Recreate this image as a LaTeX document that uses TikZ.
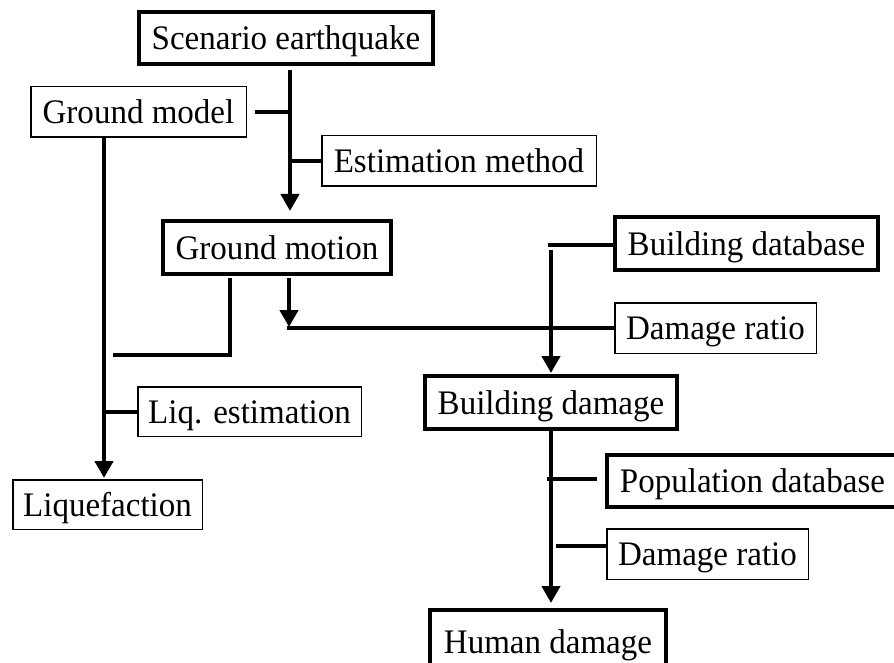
\documentclass[tikz,border=0pt]{standalone}
\usepackage{fontspec}
\setmainfont{Liberation Serif}[FakeStretch=0.96]
\usetikzlibrary{arrows.meta}
\begin{document}
\begin{tikzpicture}[x=1pt,y=-1pt,
  box/.style={draw, inner sep=0pt, align=center, text height=23pt, text depth=0pt, font=\fontsize{34.4}{40}\selectfont},
  thickbox/.style={box, line width=4pt},
  thinbox/.style={box, line width=1.5pt},
  conn/.style={line width=4.5pt},
  arr/.style={conn, -{Triangle[width=18pt,length=17pt]}}]
\useasboundingbox (0,0) rectangle (894,663);
\clip (0,0) rectangle (894,663);
\fill[white] (0,0) rectangle (894,663);
% nodes
\node[thickbox, minimum width=294pt, minimum height=52pt] (se) at (286,38) {Scenario earthquake};
\node[thinbox, minimum width=215.5pt, minimum height=50.5pt] (gmod) at (138.5,112) {Ground model};
\node[thinbox, minimum width=274.5pt, minimum height=50.5pt] (em) at (459,161) {Estimation method};
\node[thickbox, minimum width=228pt, minimum height=53pt] (gmot) at (277,247.5) {Ground motion};
\node[thickbox, minimum width=263pt, minimum height=53pt] (bdb) at (746.5,243.5) {Building database};
\node[thinbox, minimum width=201.5pt, minimum height=50.5pt] (dr1) at (715.5,328) {Damage ratio};
\node[thickbox, minimum width=252pt, minimum height=53pt] (bd) at (551,402.5) {Building damage};
\node[thinbox, minimum width=223.5pt, minimum height=49.5pt] (liqe) at (249.5,411.5) {Liq. estimation};
\node[thinbox, minimum width=189.5pt, minimum height=49.5pt] (liq) at (107.5,504.5) {Liquefaction};
\node[thickbox, minimum width=291pt, minimum height=52pt] (pdb) at (752.5,481) {Population database};
\node[thinbox, minimum width=201.5pt, minimum height=50.5pt] (dr2) at (707.5,554) {Damage ratio};
\node[thickbox, minimum width=236pt, minimum height=63pt] (hd) at (548,641.5) {Human damage};
% free ends
\coordinate (s1) at (290,70);
\coordinate (t1) at (290,211);
\coordinate (g1) at (255,112);
\coordinate (g2) at (292,112);
\coordinate (e1) at (292,161);
\coordinate (v1) at (104,136);
\coordinate (t2) at (104,478);
\coordinate (l1) at (102,412);
\coordinate (m1) at (230,278);
\coordinate (m2) at (230,355);
\coordinate (m3) at (113,355);
\coordinate (a1) at (289,278);
\coordinate (t3) at (289,327);
\coordinate (h1) at (287,328);
\coordinate (b0) at (548,245);
\coordinate (b1) at (551,250);
\coordinate (t4) at (551,373);
\coordinate (c1) at (551,431);
\coordinate (t5) at (551,603);
\coordinate (p1) at (547,479);
\coordinate (p2) at (597,479);
\coordinate (d1) at (556,546);
% connectors
\draw[arr] (s1) -- (t1);
\draw[conn] (g1) -- (g2);
\draw[conn] (e1) -- (e1 -| em.west);
\draw[arr] (v1) -- (t2);
\draw[conn] (l1) -- (l1 -| liqe.west);
\draw[conn] (m1) -- (m2) -- (m3);
\draw[arr] (a1) -- (t3);
\draw[conn] (h1) -- (h1 -| dr1.west);
\draw[conn] (b0 -| bdb.west) -- (b0);
\draw[arr] (b1) -- (t4);
\draw[arr] (c1) -- (t5);
\draw[conn] (p1) -- (p2);
\draw[conn] (d1) -- (d1 -| dr2.west);
\end{tikzpicture}
\end{document}
